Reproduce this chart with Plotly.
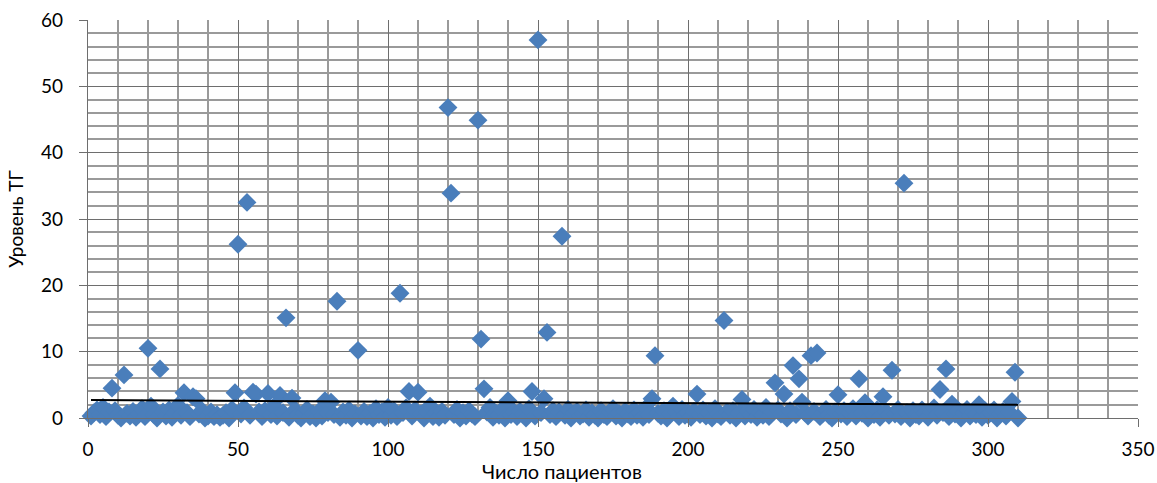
import plotly.graph_objects as go

# Patient index 1..310 and TG level (chunks of 50)
tg_001_050 = [0.3, 0.8, 1.2, 0.5, 1.6, 0.2, 0.9, 4.5, 1.1, 0.4,
              0.0, 6.5, 0.7, 0.3, 1.0, 0.1, 0.6, 1.4, 0.2, 10.5,
              1.8, 0.5, 0.0, 7.4, 0.9, 0.3, 1.2, 0.1, 0.7, 1.9,
              0.4, 3.8, 0.8, 0.2, 3.2, 2.9, 0.6, 1.1, 0.0, 0.3,
              0.9, 0.2, 0.5, 0.1, 0.4, 0.8, 0.0, 1.3, 3.8, 26.2]
tg_051_100 = [0.6, 1.5, 32.5, 0.4, 3.9, 3.6, 0.9, 0.2, 1.1, 3.7,
              0.5, 1.7, 0.3, 3.4, 0.8, 15.1, 0.1, 3.0, 1.2, 0.4,
              0.0, 0.7, 1.3, 0.2, 0.6, 0.0, 1.0, 0.3, 2.6, 0.8,
              2.4, 0.5, 17.6, 0.1, 0.9, 0.4, 1.2, 0.0, 0.6, 10.2,
              0.3, 1.0, 0.2, 0.7, 0.0, 1.4, 0.5, 0.9, 0.1, 1.6]
tg_101_150 = [0.4, 1.1, 0.2, 18.8, 0.8, 1.5, 4.0, 0.3, 1.2, 3.9,
              0.6, 0.0, 0.9, 1.8, 0.2, 0.7, 0.1, 1.0, 0.4, 46.8,
              33.9, 0.5, 1.3, 0.0, 0.8, 0.3, 1.1, 0.6, 0.2, 44.9,
              11.9, 4.4, 0.9, 1.6, 0.1, 0.7, 0.4, 1.2, 0.0, 2.6,
              0.5, 0.9, 0.2, 1.0, 0.6, 0.0, 1.4, 4.0, 0.3, 57.0]
tg_151_200 = [0.8, 2.9, 12.9, 0.5, 1.1, 0.2, 0.9, 27.4, 0.4, 1.3,
              0.0, 0.7, 1.0, 0.3, 0.6, 1.2, 0.1, 0.8, 0.4, 0.0,
              1.1, 0.5, 0.2, 0.9, 1.4, 0.3, 0.7, 0.0, 1.0, 0.6,
              0.2, 1.2, 0.4, 0.8, 0.1, 1.5, 0.5, 2.9, 9.4, 0.7,
              0.3, 1.1, 0.0, 0.6, 1.8, 0.9, 0.2, 1.3, 0.4, 0.8]
tg_201_250 = [0.1, 1.0, 3.6, 0.5, 1.2, 0.3, 0.8, 0.0, 1.4, 0.6,
              0.2, 14.7, 0.9, 0.4, 1.1, 0.0, 0.7, 2.8, 0.3, 1.0,
              0.5, 1.3, 0.1, 0.8, 0.4, 1.6, 0.2, 0.9, 5.3, 1.2,
              0.6, 3.6, 0.0, 1.1, 7.9, 0.5, 5.9, 2.4, 0.8, 0.3,
              9.4, 1.0, 9.8, 0.2, 0.7, 1.3, 0.4, 0.0, 0.9, 3.5]
tg_251_310 = [0.6, 1.1, 0.2, 0.8, 1.4, 0.3, 5.9, 0.7, 2.3, 0.0,
              1.0, 0.5, 1.2, 0.1, 3.2, 0.9, 0.4, 7.2, 0.6, 1.3,
              0.2, 35.4, 0.8, 0.0, 1.1, 0.5, 0.3, 1.2, 0.7, 0.1,
              0.9, 1.5, 0.4, 4.3, 0.8, 7.4, 0.2, 2.1, 0.6, 1.0,
              0.0, 0.7, 1.3, 0.3, 0.9, 0.5, 2.0, 0.1, 1.1, 0.4,
              0.8, 1.2, 0.0, 0.6, 1.0, 0.3, 0.9, 2.5, 6.9, 0.0]

tg_values = tg_001_050 + tg_051_100 + tg_101_150 + tg_151_200 + tg_201_250 + tg_251_310
patients = list(range(1, len(tg_values) + 1))

# linear trend line end points
trend_x = [1, 310]
trend_y = [2.7, 2.0]

x_title = "Число пациентов"
y_title = "Уровень ТГ"

FONT = "Lato"

fig = go.Figure()
fig.add_trace(go.Scatter(
    x=patients, y=tg_values, mode="markers",
    marker=dict(symbol="diamond", size=14.5, color="#4A7EBB", line=dict(width=0)),
    showlegend=False, cliponaxis=False,
))
fig.add_trace(go.Scatter(
    x=trend_x, y=trend_y, mode="lines",
    line=dict(color="black", width=2), showlegend=False,
))

fig.update_layout(
    width=1157, height=483,
    margin=dict(l=88, r=19, t=20, b=65, autoexpand=False),
    paper_bgcolor="white", plot_bgcolor="white",
    font=dict(family=FONT, color="black"),
)
fig.update_xaxes(
    range=[0, 350], dtick=50, tick0=0, automargin=False,
    showgrid=True, gridcolor="#6e6e6e", gridwidth=1.3,
    minor=dict(dtick=10, showgrid=True, gridcolor="#9a9a9a", gridwidth=1.6),
    showline=True, linecolor="#6e6e6e", linewidth=1.3,
    ticks="outside", ticklen=8, tickcolor="#6e6e6e",
    tickfont=dict(size=19, family=FONT), ticklabelstandoff=6,
    zeroline=False, mirror=False,
)
fig.update_yaxes(
    range=[0, 60], dtick=10, tick0=0, automargin=False,
    showgrid=True, gridcolor="#6e6e6e", gridwidth=1.3,
    minor=dict(dtick=2, showgrid=True, gridcolor="#9a9a9a", gridwidth=1.6),
    showline=True, linecolor="#6e6e6e", linewidth=1.3,
    ticks="outside", ticklen=8, tickcolor="#6e6e6e",
    tickfont=dict(size=19, family=FONT), ticklabelstandoff=12,
    zeroline=False,
    title=dict(text=y_title, font=dict(size=19, family=FONT), standoff=12),
)
fig.add_annotation(
    text=x_title, xref="paper", yref="paper",
    x=0.451, y=-0.132, xanchor="center", yanchor="middle",
    showarrow=False, font=dict(size=20, family=FONT),
)

fig.write_html("out.html", post_script="document.body.style.margin='0';",
               config={"displayModeBar": False})
